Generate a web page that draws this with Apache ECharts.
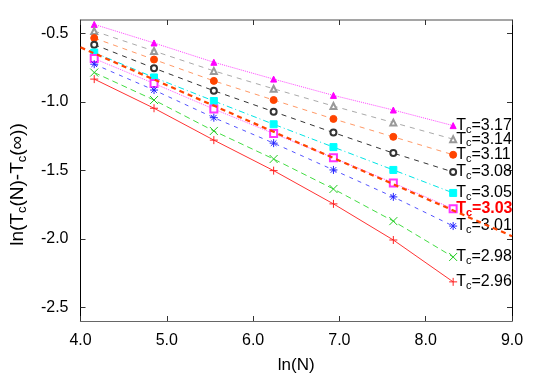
<!DOCTYPE html>
<html>
<head>
<meta charset="utf-8">
<script src="https://cdn.jsdelivr.net/npm/echarts@6/dist/echarts.min.js"></script>
<style>
  html, body { margin: 0; padding: 0; background: #fff; }
  #chart { width: 545px; height: 379px; }
</style>
</head>
<body>
<div id="chart"></div>
<script>
// ln(N) for N = 64 ... 4096
var lnN = [4.159, 4.852, 5.545, 6.238, 6.931, 7.625, 8.318];

// ln(Tc(N) - Tc(inf)) for each trial Tc(inf)
var tc317 = [-0.432, -0.568, -0.709, -0.832, -0.951, -1.058, -1.172];
var tc314 = [-0.481, -0.627, -0.772, -0.903, -1.029, -1.150, -1.271];
var tc311 = [-0.532, -0.689, -0.845, -0.985, -1.123, -1.254, -1.385];
var tc308 = [-0.580, -0.752, -0.917, -1.070, -1.223, -1.373, -1.511];
var tc305 = [-0.638, -0.820, -0.992, -1.162, -1.329, -1.496, -1.664];
var tc303 = [-0.682, -0.864, -1.051, -1.230, -1.407, -1.591, -1.780];
var tc301 = [-0.723, -0.912, -1.114, -1.300, -1.496, -1.693, -1.906];
var tc298 = [-0.784, -0.985, -1.211, -1.416, -1.635, -1.870, -2.132];
var tc296 = [-0.832, -1.045, -1.278, -1.501, -1.744, -2.008, -2.314];

// straight-line fit through the Tc=3.03 set
var fitX = [4.0, 9.0];
var fitY = [-0.60, -1.98];

var yTicks = [-2.5, -2.0, -1.5, -1.0, -0.5];

var FONT = "Liberation Sans";

function pairs(xs, ys) {
  return xs.map(function (x, i) { return [x, ys[i]]; });
}

var richLbl = {
  t: { fontFamily: FONT, fontSize: 16, color: "#000" },
  c: { fontFamily: FONT, fontSize: 11, color: "#000", padding: [8, 0, 0, 0] },
  tb: { fontFamily: FONT, fontSize: 16, color: "#ff0000", fontWeight: "bold" },
  cb: { fontFamily: FONT, fontSize: 11, color: "#ff0000", fontWeight: "bold", padding: [8, 0, 0, 0] }
};

function mkSeries(name, ys, color, lineType, symbol, symColor, symSize, stroke, bold) {
  return {
    name: name,
    type: "line",
    data: pairs(lnN, ys),
    symbol: symbol,
    symbolSize: symSize,
    showAllSymbol: true,
    lineStyle: { color: color, width: 1, type: lineType },
    itemStyle: stroke
      ? { color: "rgba(0,0,0,0)", borderColor: symColor, borderWidth: 1 }
      : { color: symColor, borderColor: symColor, borderWidth: 1 },
    endLabel: {
      show: true,
      distance: 3,
      formatter: bold
        ? "{tb|T}{cb|c}{tb|=" + name + "}"
        : "{t|T}{c|c}{t|=" + name + "}",
      rich: richLbl
    },
    z: 3
  };
}

var ASTER = "path://M0,-10L0,10M-10,0L10,0M-7,-7L7,7M-7,7L7,-7";
var CROSS = "path://M-10,-10L10,10M-10,10L10,-10";
var PLUS = "path://M0,-10L0,10M-10,0L10,0";

var chart = echarts.init(document.getElementById("chart"));
var option = {
  animation: false,
  backgroundColor: "#fff",
  grid: { left: 77, right: 33, top: 20, bottom: 57 },
  xAxis: [
    {
      type: "value",
      min: 4, max: 9, interval: 1,
      name: "ln(N)",
      nameLocation: "middle",
      nameGap: 36,
      nameTextStyle: { fontFamily: FONT, fontSize: 17, color: "#000" },
      axisLine: { lineStyle: { color: "#666", width: 1.2 } },
      axisTick: { inside: true, length: 5, lineStyle: { color: "#333" } },
      axisLabel: {
        fontFamily: FONT, fontSize: 16, color: "#000", margin: 12,
        formatter: function (v) { return v.toFixed(1); }
      },
      splitLine: { show: false }
    },
    {
      type: "value",
      position: "top",
      min: 4, max: 9, interval: 1,
      axisLine: { lineStyle: { color: "#888", width: 1.5 } },
      axisTick: { inside: true, length: 5, lineStyle: { color: "#333" } },
      axisLabel: { show: false },
      splitLine: { show: false }
    }
  ],
  yAxis: [
    {
      type: "value",
      min: -2.6, max: -0.4,
      name: "{t|ln(T}{c|c}{t|(N)-T}{c|c}{t|(∞))}",
      nameLocation: "middle",
      nameGap: 52,
      nameTextStyle: {
        padding: [0, 28, 0, 0],
        rich: {
          t: { fontFamily: FONT, fontSize: 19, color: "#000" },
          c: { fontFamily: FONT, fontSize: 13, color: "#000", padding: [9, 0, 0, 0] }
        }
      },
      axisLine: { lineStyle: { color: "#000", width: 1 } },
      axisTick: { inside: true, length: 5, customValues: yTicks, lineStyle: { color: "#333" } },
      axisLabel: {
        customValues: yTicks,
        fontFamily: FONT, fontSize: 16, color: "#000", margin: 12,
        formatter: function (v) { return v.toFixed(1); }
      },
      splitLine: { show: false }
    },
    {
      type: "value",
      position: "right",
      min: -2.6, max: -0.4,
      axisLine: { lineStyle: { color: "#000", width: 1 } },
      axisTick: { inside: true, length: 5, customValues: yTicks, lineStyle: { color: "#333" } },
      axisLabel: { show: false },
      splitLine: { show: false }
    }
  ],
  series: [
    mkSeries("3.17", tc317, "#ff44ff", "dotted", "triangle", "#ff00ff", 6, false),
    mkSeries("3.14", tc314, "#aaaaaa", [5, 5], "emptyTriangle", "#999999", 6, false),
    mkSeries("3.11", tc311, "#ff9966", [5, 5], "circle", "#ff4400", 7, false),
    mkSeries("3.08", tc308, "#333333", [5, 5], "emptyCircle", "#333333", 6, false),
    mkSeries("3.05", tc305, "#00e5e5", [6, 3, 1, 3], "rect", "#00ffff", 7, false),
    mkSeries("3.03", tc303, "#ff55ff", "dotted", "emptyRect", "#ff33ff", 7, false, true),
    mkSeries("3.01", tc301, "#5555ff", [4, 5], ASTER, "#2222ff", 8, true),
    mkSeries("2.98", tc298, "#44dd44", [6, 4], CROSS, "#22cc22", 8, true),
    mkSeries("2.96", tc296, "#ff3333", "solid", PLUS, "#ff2222", 8, true),
    {
      name: "fit",
      type: "line",
      data: pairs(fitX, fitY),
      symbol: "none",
      lineStyle: { color: "#ff4400", width: 2.2, type: [5, 4] },
      z: 4
    }
  ]
};
chart.setOption(option);
</script>
</body>
</html>
